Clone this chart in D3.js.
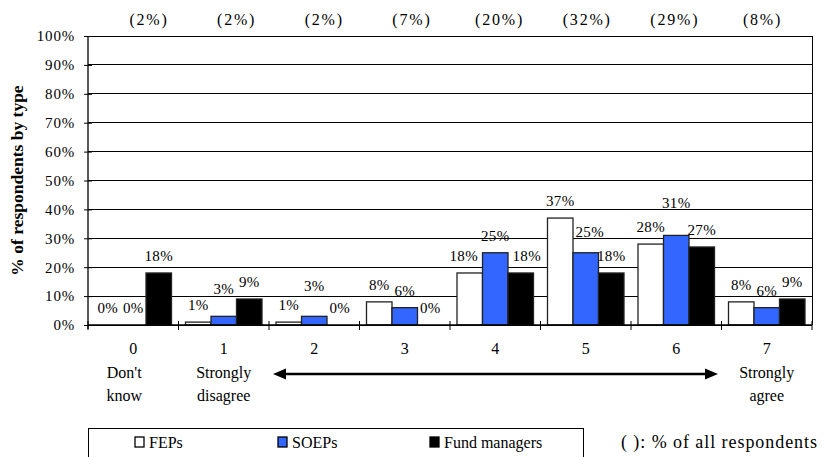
<!DOCTYPE html>
<html>
<head>
<meta charset="utf-8">
<script src="https://cdn.jsdelivr.net/npm/d3@7"></script>
</head>
<body style="margin:0;padding:0;background:#fff">
<svg id="chart" width="829" height="457" style="display:block"></svg>
<script>
// ---- data ----
const categories = ["0", "1", "2", "3", "4", "5", "6", "7"];
const categoryNotes = [["Don't", "know"], ["Strongly", "disagree"], [], [], [], [], [], ["Strongly", "agree"]];
const allRespondents = ["(2%)", "(2%)", "(2%)", "(7%)", "(20%)", "(32%)", "(29%)", "(8%)"];
const seriesNames = ["FEPs", "SOEPs", "Fund managers"];
const fepValues = [0, 1, 1, 8, 18, 37, 28, 8];
const soepValues = [0, 3, 3, 6, 25, 25, 31, 6];
const fundValues = [18, 9, 0, 0, 18, 18, 27, 9];
const yTicks = [0, 10, 20, 30, 40, 50, 60, 70, 80, 90, 100];
const seriesColors = ["#ffffff", "#3366ff", "#000000"];

const seriesValues = [fepValues, soepValues, fundValues];
const FONT = "Liberation Serif";

const svg = d3.select("#chart").attr("font-family", FONT);
const m = { left: 88, right: 812, top: 36, bottom: 325 };

const x0 = d3.scaleBand().domain(categories).range([m.left, m.right]).padding(0);
const x1 = d3.scaleBand().domain(seriesNames).range([7, x0.bandwidth() - 7]).padding(0);
const y = d3.scaleLinear().domain([0, 100]).range([m.bottom, m.top]);

// gridlines
svg.append("g").selectAll("line").data(yTicks).join("line")
  .attr("x1", m.left).attr("x2", m.right)
  .attr("y1", d => y(d)).attr("y2", d => y(d))
  .attr("stroke", "#000").attr("stroke-width", 1).attr("shape-rendering", "crispEdges");

// right border
svg.append("line").attr("x1", m.right).attr("x2", m.right)
  .attr("y1", m.top).attr("y2", m.bottom).attr("stroke", "#000").attr("shape-rendering", "crispEdges");

// bars
const rows = [];
categories.forEach((c, i) => seriesNames.forEach((s, j) => rows.push({ c, i, s, j, v: seriesValues[j][i] })));

svg.append("g").selectAll("rect").data(rows.filter(d => d.v > 0)).join("rect")
  .attr("x", d => x0(d.c) + x1(d.s))
  .attr("y", d => y(d.v))
  .attr("width", x1.bandwidth())
  .attr("height", d => y(0) - y(d.v))
  .attr("fill", d => seriesColors[d.j])
  .attr("stroke", "#222").attr("stroke-width", 1.3);

// value labels (small lifts where the original moved labels to avoid overlap)
const lift = { "1-1": 10, "2-1": 13, "5-1": 4, "6-1": 15 };
const nudge = { "4-0": -6, "4-2": 6, "5-1": 4 };
svg.append("g").selectAll("text").data(rows).join("text")
  .attr("font-family", FONT)
  .attr("x", d => x0(d.c) + x1(d.s) + x1.bandwidth() / 2 + (nudge[d.i + "-" + d.j] || 0))
  .attr("y", d => y(d.v) - 12 - (lift[d.i + "-" + d.j] || 0))
  .attr("text-anchor", "middle").attr("font-size", 15).attr("letter-spacing", 0.3).attr("fill", "#000")
  .text(d => d.v + "%");

// axes
const yAxis = d3.axisLeft(y).tickValues(yTicks).tickFormat(d => d + "%").tickSize(0);
const gy = svg.append("g").attr("transform", `translate(${m.left},0)`).call(yAxis);
gy.attr("font-family", FONT);
gy.select(".domain").remove();
gy.selectAll("text").attr("font-family", FONT).attr("x", -13).attr("font-size", 15)
  .attr("letter-spacing", 0.8).attr("fill", "#000");
gy.selectAll(".tick").append("line").attr("x1", -4).attr("x2", 4).attr("stroke", "#000");
svg.append("line").attr("x1", m.left).attr("x2", m.left).attr("y1", m.top).attr("y2", m.bottom + 4)
  .attr("stroke", "#000").attr("stroke-width", 1.3);
svg.append("line").attr("x1", m.left).attr("x2", m.right).attr("y1", m.bottom).attr("y2", m.bottom)
  .attr("stroke", "#000").attr("stroke-width", 1.3);

// x tick marks at category boundaries
const bounds = categories.map(c => x0(c)).concat([m.right]);
svg.append("g").selectAll("line").data(bounds).join("line")
  .attr("x1", d => d).attr("x2", d => d)
  .attr("y1", m.bottom - 4).attr("y2", m.bottom + 5)
  .attr("stroke", "#000").attr("stroke-width", 1);

// category labels
const xAxis = d3.axisBottom(x0).tickSize(0).tickPadding(0);
const gx = svg.append("g").attr("transform", `translate(0,${m.bottom})`).call(xAxis);
gx.attr("font-family", FONT);
gx.select(".domain").remove();
gx.selectAll("text").attr("font-family", FONT).attr("y", 18).attr("dy", "0.71em")
  .attr("font-size", 16).attr("fill", "#000");

categoryNotes.forEach((lines, i) => {
  const shift = i === 0 ? -9 : 0;
  lines.forEach((t, k) => {
    svg.append("text").attr("font-family", FONT)
      .attr("x", x0(categories[i]) + x0.bandwidth() / 2 + shift).attr("y", 378 + k * 22.5)
      .attr("text-anchor", "middle").attr("font-size", 16).text(t);
  });
});

// top "% of all respondents" labels (set as one evenly spaced line in the original)
const topX = d3.scaleLinear().domain([0, allRespondents.length - 1]).range([149, 762.5]);
svg.append("g").selectAll("text").data(allRespondents).join("text")
  .attr("font-family", FONT)
  .attr("x", (d, i) => topX(i))
  .attr("y", 25).attr("text-anchor", "middle").attr("font-size", 16).attr("letter-spacing", 1.8)
  .text(d => d);

// arrow
const ax1 = 273, ax2 = 718, ay = 374;
svg.append("line").attr("x1", ax1 + 10).attr("x2", ax2 - 10).attr("y1", ay).attr("y2", ay)
  .attr("stroke", "#000").attr("stroke-width", 2.6);
svg.append("path").attr("d", `M${ax1},${ay} L${ax1 + 13},${ay - 5.5} L${ax1 + 13},${ay + 5.5} Z`).attr("fill", "#000");
svg.append("path").attr("d", `M${ax2},${ay} L${ax2 - 13},${ay - 5.5} L${ax2 - 13},${ay + 5.5} Z`).attr("fill", "#000");

// y-axis title
svg.append("text").attr("font-family", FONT)
  .attr("transform", `translate(23,${(m.top + m.bottom) / 2}) rotate(-90)`)
  .attr("text-anchor", "middle").attr("font-size", 17.5).attr("font-weight", "bold")
  .text("% of respondents by type");

// legend
svg.append("rect").attr("x", 88.5).attr("y", 428.5).attr("width", 495).attr("height", 40)
  .attr("fill", "none").attr("stroke", "#000").attr("stroke-width", 1);
const legendX = [135, 278, 430];
seriesNames.forEach((s, j) => {
  svg.append("rect").attr("x", legendX[j]).attr("y", 437).attr("width", 9).attr("height", 10)
    .attr("fill", seriesColors[j]).attr("stroke", "#000").attr("stroke-width", 1.3);
  svg.append("text").attr("font-family", FONT).attr("x", legendX[j] + 14).attr("y", 447.5)
    .attr("font-size", 16).text(s);
});
svg.append("text").attr("font-family", FONT).attr("x", 621).attr("y", 448)
  .attr("font-size", 18).attr("textLength", 196).attr("lengthAdjust", "spacing")
  .text("( ): % of all respondents");
</script>
</body>
</html>
